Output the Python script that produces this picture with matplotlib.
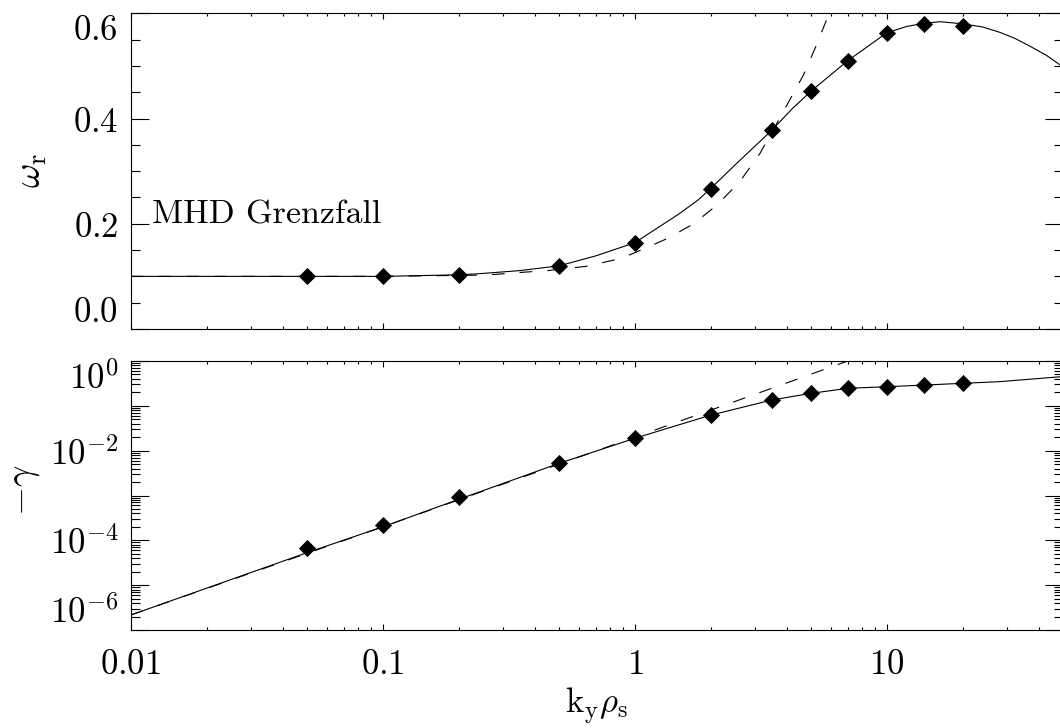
import numpy as np
import matplotlib.pyplot as plt
from matplotlib.ticker import (FixedLocator, FuncFormatter, LogLocator,
                               MultipleLocator, NullFormatter)

plt.rcParams['mathtext.fontset'] = 'cm'

# simulation points (diamonds)
k_sim = [0.05, 0.1, 0.2, 0.5, 1.0, 2.0, 3.5, 5.0, 7.0, 10.0, 14.0, 20.0]
omega_sim = [0.100, 0.100, 0.103, 0.120, 0.164, 0.267, 0.378, 0.452,
             0.510, 0.563, 0.580, 0.576]
gamma_sim = [6.8e-5, 2.2e-4, 9.4e-4, 5.2e-3, 1.89e-2, 6.2e-2, 0.135, 0.19,
             0.246, 0.267, 0.29, 0.318]

# full dispersion relation (solid)
k_full = [0.01, 0.05, 0.1, 0.2, 0.24, 0.35, 0.5, 0.7, 1.0, 1.5, 1.78, 2.0,
          2.5, 3.5, 4.2, 5.0, 7.0, 10.0, 12.0, 14.0, 16.3, 20.0, 24.0, 28.0,
          32.0, 36.8, 43.0, 50.0]
omega_full = [0.100, 0.100, 0.100, 0.103, 0.105, 0.111, 0.120, 0.139, 0.164,
              0.219, 0.245, 0.267, 0.312, 0.378, 0.418, 0.452, 0.510, 0.563,
              0.575, 0.581, 0.584, 0.580, 0.574, 0.564, 0.553, 0.538, 0.520,
              0.498]
k_gfull = [0.01, 0.05, 0.1, 0.2, 0.5, 1.0, 2.0, 3.5, 5.0, 7.0, 10.0, 14.0,
           20.0, 28.0, 50.0]
gamma_full = [2.16e-6, 5.3e-5, 2.0e-4, 8.2e-4, 5.2e-3, 1.89e-2, 6.2e-2,
              0.135, 0.19, 0.246, 0.267, 0.29, 0.318, 0.346, 0.45]

# MHD limit (dashed)
k_mhd = [0.01, 0.1, 0.26, 0.34, 0.45, 0.64, 0.88, 1.12, 1.36, 1.71, 2.10,
         2.60, 3.14, 3.80, 4.67, 5.24, 5.78, 5.92]
omega_mhd = [0.100, 0.100, 0.1026, 0.107, 0.111, 0.119, 0.134, 0.155, 0.173,
             0.200, 0.234, 0.279, 0.334, 0.405, 0.483, 0.538, 0.589, 0.600]
k_gmhd = [0.01, 0.1, 1.0, 2.2, 7.0]
gamma_mhd = [2.16e-6, 2.0e-4, 2.0e-2, 9.7e-2, 1.0]

x_ticks = [0.01, 0.1, 1, 10]
x_labels = ['0.01', '0.1', '1', '10']

W, H = 1060, 728
fig = plt.figure(figsize=(W / 100, H / 100), dpi=100)
left, right = 130.8, 1063
ax1 = fig.add_axes([left / W, 1 - 329 / H, (right - left) / W, (329 - 13.3) / H])
ax2 = fig.add_axes([left / W, 1 - 630 / H, (right - left) / W, (630 - 361) / H])

dash = (0, (11.5, 13.5))
lw = 0.8

ax1.plot(k_full, omega_full, color='black', lw=lw)
ax1.plot(k_mhd, omega_mhd, color='black', lw=lw, linestyle=dash)
ax1.plot(k_sim, omega_sim, 'D', color='black', ms=7.8, mew=0.6)

ax2.plot(k_gfull, gamma_full, color='black', lw=lw)
ax2.plot(k_gmhd, gamma_mhd, color='black', lw=lw, linestyle=dash)
ax2.plot(k_sim, gamma_sim, 'D', color='black', ms=7.8, mew=0.6)

for ax in (ax1, ax2):
    ax.set_xscale('log')
    ax.set_xlim(0.01, 50)
    ax.xaxis.set_major_locator(FixedLocator(x_ticks))
    ax.xaxis.set_minor_locator(LogLocator(base=10, subs=np.arange(2, 10), numticks=50))
    ax.xaxis.set_minor_formatter(NullFormatter())
    ax.tick_params(which='both', direction='in', top=True, right=True,
                   width=0.8, color='black', labelsize=25)
    ax.tick_params(axis='y', which='major', length=13, pad=9)
    ax.tick_params(axis='y', which='minor', length=6.5)
    ax.tick_params(axis='x', which='major', length=4.3, pad=12)
    ax.tick_params(axis='x', which='minor', length=2.2)
    for s in ax.spines.values():
        s.set_linewidth(0.8)

ax1.xaxis.set_major_formatter(NullFormatter())
ax2.xaxis.set_major_formatter(
    FuncFormatter(lambda v, p: '$%s$' % x_labels[x_ticks.index(round(v, 3))]
                  if round(v, 3) in x_ticks else ''))

ax1.set_ylim(0, 0.6)
ax1.yaxis.set_major_locator(FixedLocator([0.0, 0.2, 0.4, 0.6]))
ax1.yaxis.set_minor_locator(MultipleLocator(0.05))
ax1.yaxis.set_major_formatter(FuncFormatter(lambda v, p: r'$%.1f$' % v))

ax2.set_yscale('log')
ax2.set_ylim(1e-6, 1)
ax2.yaxis.set_major_locator(FixedLocator(10.0 ** np.arange(-6, 1)))
ax2.yaxis.set_minor_locator(LogLocator(base=10, subs=np.arange(2, 10), numticks=50))
ax2.yaxis.set_minor_formatter(NullFormatter())


def exp_label(v, p):
    e = int(round(np.log10(v)))
    return r'$10^{%d}$' % e if e % 2 == 0 else ''


ax2.yaxis.set_major_formatter(FuncFormatter(exp_label))

# keep end labels inside the frame
for ax in (ax1, ax2):
    ticks = ax.yaxis.get_major_ticks()
    ticks[0].label1.set_verticalalignment('bottom')
    ticks[-1].label1.set_verticalalignment('top')

ax1.text(0.0121, 0.2, 'MHD Grenzfall', fontfamily='cmr10', fontsize=24.5,
         ha='left', va='baseline')

fig.text(31 / W, 1 - 171 / H, r'$\omega_\mathrm{r}$', rotation=90,
         ha='center', va='center', fontsize=27)
fig.text(24.5 / W, 1 - 490 / H, r'$-\gamma$', rotation=90,
         ha='center', va='center', fontsize=27)
fig.text(597 / W, 1 - 706 / H, r'$\mathrm{k_y}\rho_\mathrm{s}$',
         ha='center', va='center', fontsize=25)

fig.savefig('out.png', dpi=100)
